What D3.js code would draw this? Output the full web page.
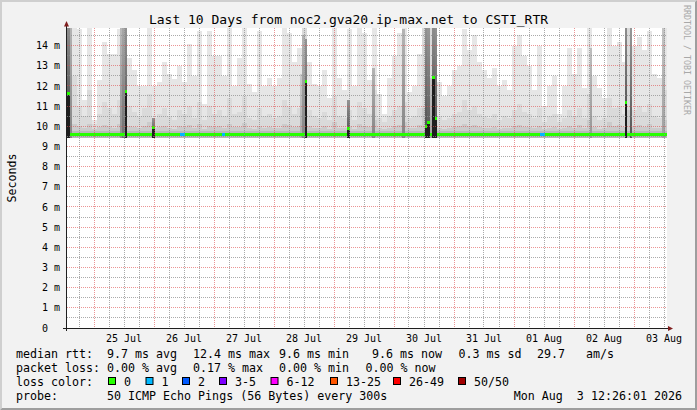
<!DOCTYPE html>
<html><head><meta charset="utf-8">
<script src="https://cdn.jsdelivr.net/npm/d3@7"></script>
<style>
html,body{margin:0;padding:0;background:#f2f2f2;}
svg{display:block;}
text{font-family:"DejaVu Sans Mono",monospace;fill:#000;white-space:pre;}
</style></head><body>
<svg id="c" width="697" height="410"></svg>
<script>
// ---------------- data ----------------
const titleText = "Last 10 Days from noc2.gva20.ip-max.net to CSTI_RTR";
const yTickValues = [0,1,2,3,4,5,6,7,8,9,10,11,12,13,14];
const yTickLabels = ["0  ","1 m","2 m","3 m","4 m","5 m","6 m","7 m","8 m","9 m","10 m","11 m","12 m","13 m","14 m"];
const dayLabels = ["25 Jul","26 Jul","27 Jul","28 Jul","29 Jul","30 Jul","31 Jul","01 Aug","02 Aug","03 Aug"];

// smoke envelope per 2-hour bin (ms): outer band top, second band top, third band top
const smokeTop = [15,15,14.8,11.3,15,10.3,12.3,14.2,13.6,13.6,
 14.8,15,13.4,12.8,12.0,12.0,15,12.0,12.2,13.2,
 12.6,12.35,13.0,12.2,14.1,12.5,14.7,11.1,14.7,13.5,
 13.5,12.5,15,12.0,13.4,15,12.1,11.7,14.7,12.0,
 12.4,12.0,12.4,15,14.6,13.2,13.9,15,13.2,12.1,
 12.0,12.8,11.4,15,12.4,11.8,14.8,12.0,15,14.6,
 12.3,15,11.6,10.6,12.4,13.5,14.6,14.9,11.7,12.0,
 13.6,15,15,15,12.2,11.5,12.0,12.8,13.0,14.8,
 13.8,14.5,13.2,12.8,12.4,12.9,12.0,12.3,11.8,14.0,
 14.5,13.5,13.0,11.8,14.0,11.0,12.0,12.5,10.6,12.0,
 13.9,12.6,13.9,11.9,15,12.5,11.9,11.4,15,14.0,
 14.2,13.2,15,14.0,14.4,13.8,14.7,12.6,12.4,15];
const smokeMid = [15,12.5,11.0,10.5,11.8,10.1,10.6,11.2,10.9,10.6,
 11.3,15,11.0,10.7,10.5,10.9,11.6,10.4,10.6,10.9,
 10.5,10.3,10.8,10.6,11.0,10.4,11.2,10.3,11.0,10.6,
 10.8,10.5,11.4,10.6,10.7,11.5,10.4,10.3,10.9,10.5,
 10.6,10.4,10.5,11.3,11.0,10.6,10.9,15,10.8,10.5,
 10.4,10.7,10.3,11.5,10.5,10.4,10.8,10.3,11.2,10.9,
 10.6,11.8,10.4,10.2,10.5,10.8,11.0,11.2,10.4,10.5,
 10.9,15,15,15,10.5,10.3,10.4,10.6,10.7,11.3,
 10.8,11.0,10.6,10.5,10.4,10.6,10.3,10.5,10.4,10.8,
 11.1,10.7,10.6,10.4,10.9,10.2,10.5,10.6,10.2,10.4,
 10.8,10.5,10.9,10.4,11.6,10.5,10.3,10.4,11.4,10.9,
 11.0,10.6,15,10.8,11.0,10.7,11.1,10.5,10.4,11.8];
const smokeLow = [10.6,10.1,10.0,9.9,10.1,9.85,9.95,10.05,10.0,9.9,
 10.1,10.8,10.0,9.95,9.9,10.0,10.2,9.9,9.95,10.0,
 9.9,9.85,10.0,9.95,10.05,9.9,10.1,9.85,10.0,9.95,
 10.0,9.9,10.1,9.95,9.95,10.15,9.9,9.85,10.0,9.9,
 9.95,9.9,9.9,10.1,10.05,9.95,10.0,10.6,10.0,9.9,
 9.9,10.0,9.85,10.2,9.9,9.9,10.0,9.85,10.1,10.0,
 9.95,10.3,9.9,9.85,9.9,10.0,10.05,10.2,9.9,9.9,
 10.05,10.9,10.6,10.9,9.9,9.85,9.9,9.95,10.0,10.1,
 10.0,10.05,9.95,9.9,9.9,9.95,9.85,9.9,9.9,10.0,
 10.05,9.95,9.95,9.9,10.0,9.85,9.9,9.95,9.85,9.9,
 10.0,9.9,10.05,9.9,10.3,9.95,9.85,9.9,10.2,10.0,
 10.05,9.95,10.8,10.0,10.05,9.95,10.1,9.9,9.9,10.3];
const smokeMin = 9.44;
const smokeCore = 9.78;

// hourly median rtt (ms), 240 hours
const medianRtt = [
 11.6,9.6,9.6,9.6,9.6,9.6,9.6,9.6,9.6,9.6,9.6,9.6,9.6,9.6,9.6,9.6,9.6,9.6,9.6,9.6,9.6,9.6,9.6,11.7,
 9.6,9.6,9.6,9.6,9.6,9.6,9.6,9.6,9.6,9.6,9.95,9.6,9.6,9.6,9.6,9.6,9.6,9.6,9.6,9.6,9.6,9.6,9.6,9.6,
 9.6,9.6,9.6,9.6,9.6,9.6,9.6,9.6,9.6,9.6,9.6,9.6,9.6,9.6,9.6,9.6,9.6,9.6,9.6,9.6,9.6,9.6,9.6,9.6,
 9.6,9.6,9.6,9.6,9.6,9.6,9.6,9.6,9.6,9.6,9.6,9.6,9.6,9.6,9.6,9.6,9.6,9.6,9.6,9.6,9.6,9.6,9.6,12.2,
 9.6,9.6,9.6,9.6,9.6,9.6,9.6,9.6,9.6,9.6,9.6,9.6,9.6,9.6,9.6,9.6,9.9,9.6,9.6,9.6,9.6,9.6,9.6,9.6,
 9.6,9.6,9.6,9.6,9.6,9.6,9.6,9.6,9.6,9.6,9.6,9.6,9.6,9.6,9.6,9.6,9.6,9.6,9.6,9.6,9.6,9.6,9.6,10.0,
 10.2,9.6,12.4,10.4,9.6,9.6,9.6,9.6,9.6,9.6,9.6,9.6,9.6,9.6,9.6,9.6,9.6,9.6,9.6,9.6,9.6,9.6,9.6,9.6,
 9.6,9.6,9.6,9.6,9.6,9.6,9.6,9.6,9.6,9.6,9.6,9.6,9.6,9.6,9.6,9.6,9.6,9.6,9.6,9.6,9.6,9.6,9.6,9.6,
 9.6,9.6,9.6,9.6,9.6,9.6,9.6,9.6,9.6,9.6,9.6,9.6,9.6,9.6,9.6,9.6,9.6,9.6,9.6,9.6,9.6,9.6,9.6,9.6,
 9.6,9.6,9.6,9.6,9.6,9.6,9.6,11.2,9.6,9.6,9.6,9.6,9.6,9.6,9.6,9.6,9.6,9.6,9.6,9.6,9.6,9.6,9.6,9.6];
// hourly lost pings (of 50)
const lostPings = [
 0,0,0,0,0,0,0,0,0,0,0,0,0,0,0,0,0,0,0,0,0,0,0,0,
 0,0,0,0,0,0,0,0,0,0,0,0,0,0,0,0,0,0,0,0,0,1,1,0,
 0,0,0,0,0,0,0,0,0,0,0,0,0,0,1,0,0,0,0,0,0,0,0,0,
 0,0,0,0,0,0,0,0,0,0,0,0,0,0,0,0,0,0,0,0,0,0,0,0,
 0,0,0,0,0,0,0,0,0,0,0,0,0,0,0,0,0,0,0,0,0,0,0,0,
 0,0,0,0,0,0,0,0,0,0,0,0,0,0,0,0,0,0,0,0,0,0,0,0,
 0,0,0,0,0,0,0,0,0,0,0,0,0,0,0,0,0,0,0,0,0,0,0,0,
 0,0,0,0,0,0,0,0,0,0,0,0,0,0,0,0,0,0,0,0,0,1,1,0,
 0,0,0,0,0,0,0,0,0,0,0,0,0,0,0,0,0,0,0,0,0,0,0,0,
 0,0,0,0,0,0,0,0,0,0,0,0,0,0,0,0,0,0,0,0,0,0,0,0];
// dense smoke columns (hour index, top in ms, density 0..1)
const denseHour  = [0,1,21,22,23,34,93,94,95,112,122,134,143,144,145,146,147,209,223,225,238];
const denseTop   = [15,15,15,15,15,10.4,12.6,14.5,14.3,11.3,12.9,14.8,15,15,12.4,15,15,13.9,15,15,15];
const denseLevel = [0.85,0.5,0.45,0.6,0.8,0.8,0.3,0.5,0.8,0.8,0.5,0.5,0.8,0.75,0.35,0.85,0.8,0.4,0.85,0.75,0.35];

const lossLabels = ["0","1","2","3-5","6-12","13-25","26-49","50/50"];
const lossColors = ["#26ff00","#00b8ff","#0059ff","#7e00ff","#ff00ff","#ff5500","#ff0000","#a10000"];
const lossUpper  = [0,1,2,5,12,25,49,50];

const legendRtt  = [["median rtt:",16],["9.7 ms avg",107],["12.4 ms max",193],["9.6 ms min",279],["9.6 ms now",372],["0.3 ms sd",458.5],["29.7",537],["am/s",586]];
const legendLoss = [["packet loss:",16],["0.00 % avg",107],["0.17 % max",193],["0.00 % min",279],["0.00 % now",365.5]];
const legendBoxX = [108,145.5,182,219,270.5,330,393,458];
const probeText = "50 ICMP Echo Pings (56 Bytes) every 300s";
const stampText = "Mon Aug  3 12:26:01 2026";

// ---------------- layout ----------------
const W = 697, H = 410;
const L = 67, R = 667, T = 28, B = 328;
const HOUR = 3600e3;
const t0 = Date.UTC(2026, 6, 24, 13, 12);
const t1 = t0 + 240 * HOUR;
const x = d3.scaleUtc().domain([t0, t1]).range([L, R]);
const y = d3.scaleLinear().domain([0, 14.87]).range([B, T]);

const svg = d3.select("#c");
const defs = svg.append("defs");
defs.append("clipPath").attr("id", "clip").append("rect")
  .attr("x", L).attr("y", T).attr("width", R - L).attr("height", B - T);

svg.append("rect").attr("width", W).attr("height", H).attr("fill", "#f2f2f2");
svg.append("path").attr("d", `M0,0H${W}L${W-2},2H2V${H-2}L0,${H}Z`).attr("fill", "#cfcfcf");
svg.append("path").attr("d", `M${W},0V${H}H0L2,${H-2}H${W-2}V2Z`).attr("fill", "#9e9e9e");
svg.append("rect").attr("x", L).attr("y", T).attr("width", R - L).attr("height", B - T).attr("fill", "#fff");

const g = svg.append("g").attr("clip-path", "url(#clip)");
const bx0 = (i, h) => x(new Date(t0 + i * h * HOUR));
const bx1 = (i, h) => x(new Date(t0 + (i + 1) * h * HOUR));

function band(vals, bottom, color) {
  g.append("g").selectAll("rect").data(vals).join("rect")
    .attr("x", (d, i) => bx0(i, 2)).attr("width", (d, i) => bx1(i, 2) - bx0(i, 2))
    .attr("y", d => y(d)).attr("height", d => Math.max(0, y(bottom) - y(d)))
    .attr("fill", color).attr("shape-rendering", "crispEdges");
}
band(smokeTop, smokeMin, "#e6e6e6");
band(smokeMid, smokeMin, "#dadada");
band(smokeLow, smokeMin, "#cbcbcb");
band(smokeLow.map(() => smokeCore), smokeMin, "#b9b9b9");

// dense columns
const gray = v => { v = Math.round(v); return `rgb(${v},${v},${v})`; };
denseHour.forEach((h, k) => {
  const s = denseLevel[k];
  const gr = defs.append("linearGradient").attr("id", "dg" + k)
    .attr("x1", 0).attr("y1", 0).attr("x2", 0).attr("y2", 1);
  gr.append("stop").attr("offset", "0%").attr("stop-color", gray(235 - 110 * s));
  gr.append("stop").attr("offset", "100%").attr("stop-color", gray(225 - 185 * s));
});
g.append("g").selectAll("rect").data(denseHour).join("rect")
  .attr("x", h => bx0(h, 1)).attr("width", h => bx1(h, 1) - bx0(h, 1))
  .attr("y", (h, k) => y(denseTop[k])).attr("height", (h, k) => y(smokeMin) - y(denseTop[k]))
  .attr("fill", (h, k) => `url(#dg${k})`).attr("shape-rendering", "crispEdges");
// dark core below an elevated median
g.append("g").selectAll("rect").data(medianRtt.map((m, i) => ({m, i})).filter(d => d.m > 9.75)).join("rect")
  .attr("x", d => bx0(d.i, 1)).attr("width", d => bx1(d.i, 1) - bx0(d.i, 1))
  .attr("y", d => y(d.m)).attr("height", d => y(smokeMin) - y(d.m))
  .attr("fill", "#1e1e1e").attr("shape-rendering", "crispEdges");

// median coloured by loss
const lossColor = n => lossColors[lossUpper.findIndex(u => n <= u)];
g.append("g").selectAll("rect").data(medianRtt).join("rect")
  .attr("x", (d, i) => bx0(i, 1)).attr("width", (d, i) => bx1(i, 1) - bx0(i, 1))
  .attr("y", d => y(d) - 1.5).attr("height", 3)
  .attr("fill", (d, i) => lossColor(lostPings[i])).attr("shape-rendering", "crispEdges");

// grid (on top)
const grid = svg.append("g").attr("fill", "none").attr("stroke-width", 1).attr("stroke-dasharray", "1,1");
const minorY = d3.range(1, 30, 2).map(v => v / 2);
const majorY = yTickValues.filter(v => v > 0);
grid.selectAll(".hy").data(minorY).join("line")
  .attr("x1", L).attr("x2", R).attr("y1", v => Math.floor(y(v)) + 0.5).attr("y2", v => Math.floor(y(v)) + 0.5)
  .attr("stroke", "rgba(143,143,143,0.75)");
const sixH = d3.utcHour.every(6).range(new Date(t0), new Date(t1)).filter(d => d.getUTCHours() !== 0);
grid.selectAll(".vx").data(sixH).join("line")
  .attr("x1", d => Math.floor(x(d)) + 0.5).attr("x2", d => Math.floor(x(d)) + 0.5).attr("y1", T).attr("y2", B)
  .attr("stroke", "rgba(143,143,143,0.75)");
grid.selectAll(".my").data(majorY).join("line")
  .attr("x1", L).attr("x2", R).attr("y1", v => Math.floor(y(v)) + 0.5).attr("y2", v => Math.floor(y(v)) + 0.5)
  .attr("stroke", "rgba(222,79,79,0.6)");
const days = d3.utcDay.range(new Date(t0), new Date(t1));
grid.selectAll(".mx").data(days).join("line")
  .attr("x1", d => Math.floor(x(d)) + 0.5).attr("x2", d => Math.floor(x(d)) + 0.5).attr("y1", T).attr("y2", B)
  .attr("stroke", "rgba(222,79,79,0.6)");

// axes
svg.append("line").attr("x1", 63).attr("x2", R + 1).attr("y1", B + 0.5).attr("y2", B + 0.5).attr("stroke", "#1f1f1f");
svg.append("line").attr("x1", L - 0.5).attr("x2", L - 0.5).attr("y1", B + 3).attr("y2", T - 2).attr("stroke", "#1f1f1f");
svg.append("path").attr("d", `M${L-0.5},21L${L-3},26.5L${L+2},26.5Z`).attr("fill", "#801f1f");
svg.append("path").attr("d", `M${R+6},${B+0.5}L${R+1},${B-2}L${R+1},${B+3}Z`).attr("fill", "#801f1f");

// tick labels
svg.append("g").selectAll("text").data(yTickValues).join("text")
  .attr("x", 60).attr("y", v => y(v) + 3.6).attr("text-anchor", "end").attr("font-size", "10px")
  .text((v, i) => yTickLabels[i]);
const noons = days.map(d => new Date(+d + 12 * HOUR));
svg.append("g").selectAll("text").data(noons).join("text")
  .attr("x", d => x(d)).attr("y", 341.5).attr("text-anchor", "middle").attr("font-size", "10px")
  .text((d, i) => dayLabels[i]);

// title, axis title, watermark
svg.append("text").attr("x", 348.5).attr("y", 24).attr("text-anchor", "middle").attr("font-size", "13px").text(titleText);
svg.append("text").attr("transform", "translate(15.5,178) rotate(-90)").attr("text-anchor", "middle")
  .attr("font-size", "11.6px").text("Seconds");
svg.append("text").attr("transform", "translate(684,5) rotate(90)").attr("font-size", "8.3px")
  .style("fill", "#a8a8a8").text("RRDTOOL / TOBI OETIKER");

// legend
const FS = "11.65px";
const leg = svg.append("g").attr("font-size", FS);
leg.selectAll(".r").data(legendRtt).join("text").attr("x", d => d[1]).attr("y", 357.5).text(d => d[0]);
leg.selectAll(".l").data(legendLoss).join("text").attr("x", d => d[1]).attr("y", 371.5).text(d => d[0]);
leg.append("text").attr("x", 16).attr("y", 385.5).text("loss color:");
leg.selectAll(".b").data(lossLabels).join("rect")
  .attr("x", (d, i) => legendBoxX[i] + 0.5).attr("y", 377.5).attr("width", 7).attr("height", 7)
  .attr("fill", (d, i) => lossColors[i]).attr("stroke", "#000").attr("stroke-width", 1);
leg.selectAll(".bl").data(lossLabels).join("text")
  .attr("x", (d, i) => legendBoxX[i] + 16).attr("y", 385.5).text(d => d);
leg.append("text").attr("x", 16).attr("y", 399.5).text("probe:");
leg.append("text").attr("x", 107).attr("y", 399.5).text(probeText);
leg.append("text").attr("x", 682).attr("y", 399.5).attr("text-anchor", "end").text(stampText);
</script>
</body></html>
